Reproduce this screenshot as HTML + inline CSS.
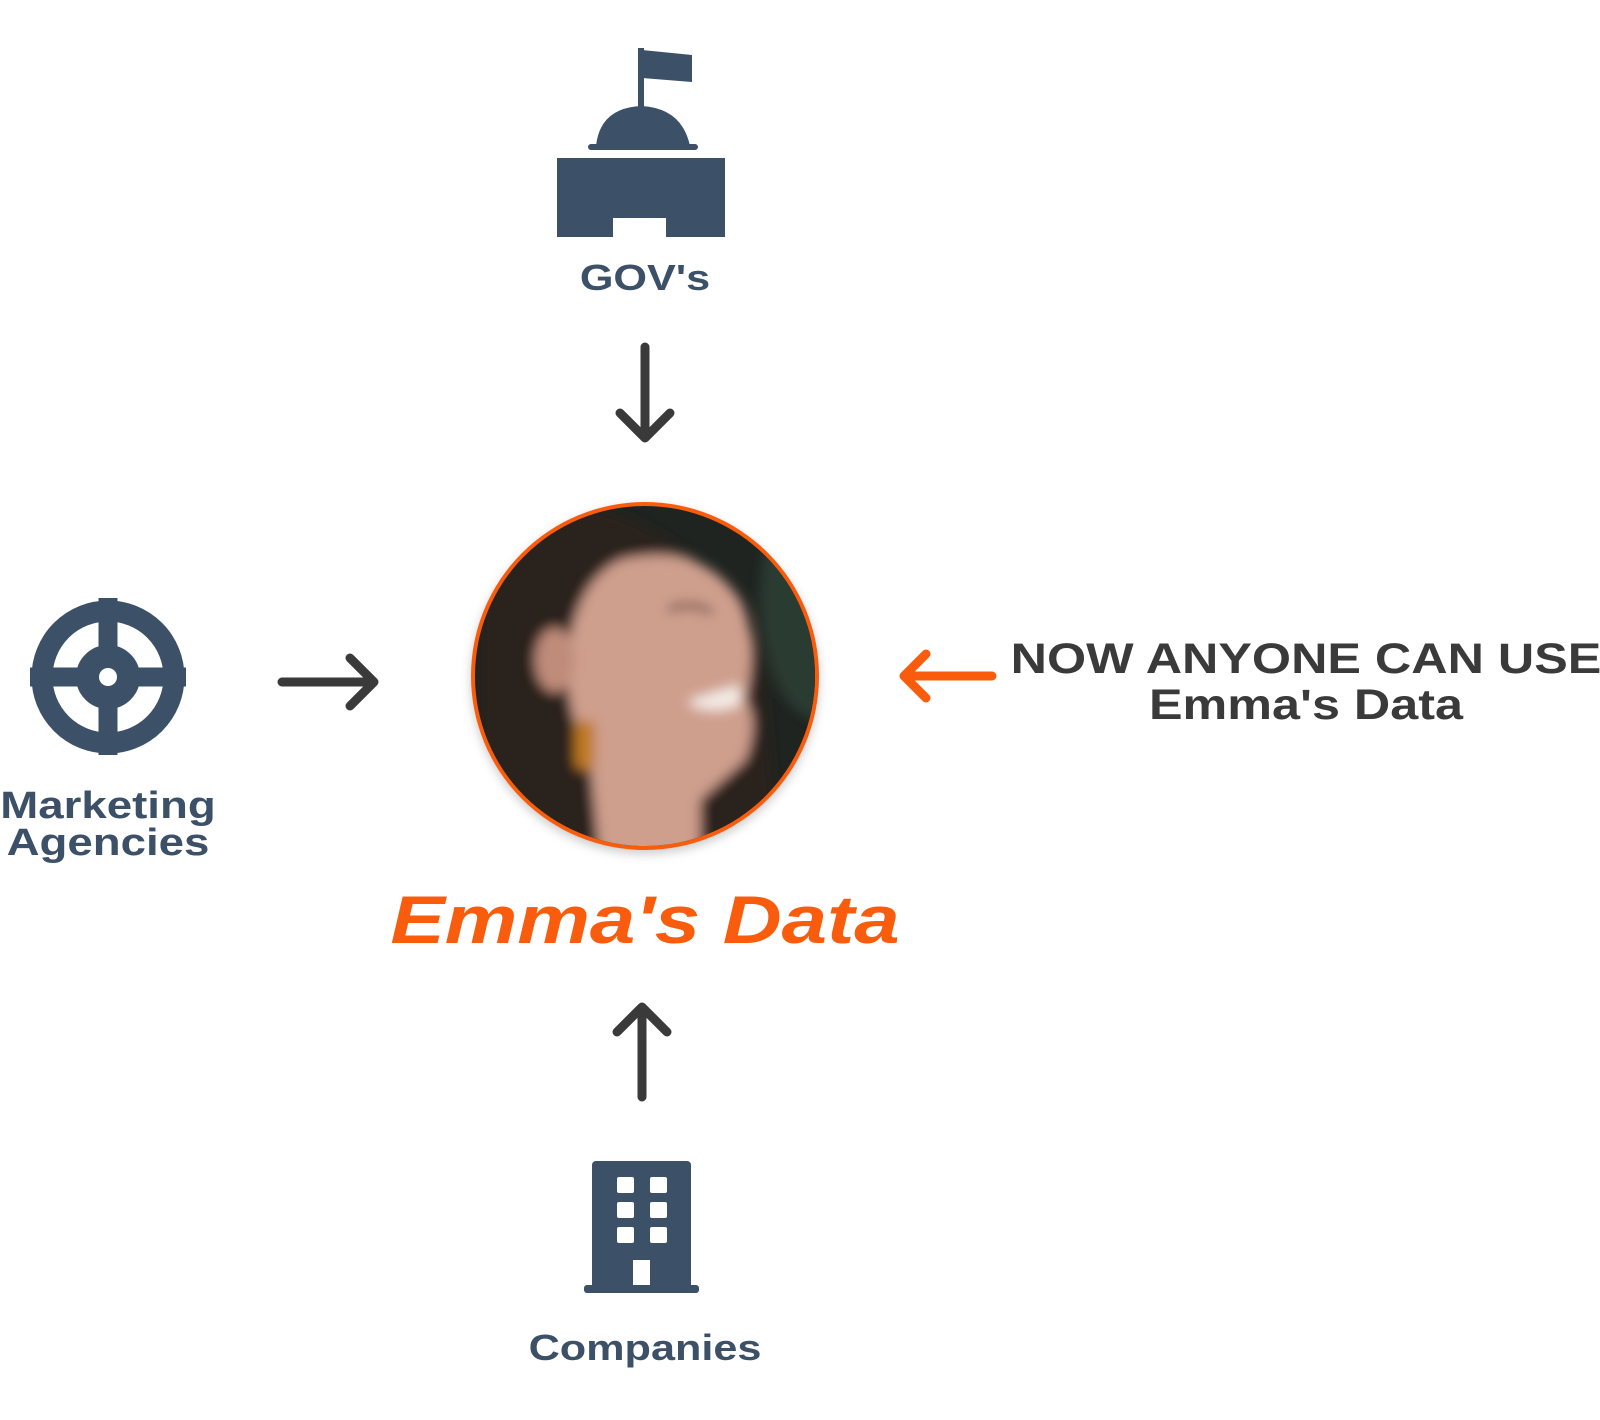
<!DOCTYPE html>
<html><head><meta charset="utf-8"><style>
html,body{margin:0;padding:0;background:#fff;}
body{width:1600px;height:1420px;position:relative;overflow:hidden;font-family:"Liberation Sans",sans-serif;}
.t{position:absolute;font-weight:bold;color:#3c5168;text-align:center;white-space:nowrap;transform:scaleX(1.2);transform-origin:center;}
</style></head><body>
<svg width="1600" height="1420" style="position:absolute;left:0;top:0">
<defs>
<clipPath id="cc"><circle cx="645" cy="676" r="170"/></clipPath>
<filter id="bl"><feGaussianBlur stdDeviation="6"/></filter>
<filter id="sh"><feGaussianBlur stdDeviation="5"/></filter>
</defs>
<g fill="#3c5168">
<rect x="638" y="48" width="6" height="62"/>
<path d="M642 50 L692 55 L692 82 L642 78 Z"/>
<path d="M596 146 Q600 108 641 106 Q682 108 690 146 Z"/>
<rect x="588" y="144" width="110" height="6" rx="3"/>
<path d="M557 158 H725 V237 H666 V218 H613 V237 H557 Z"/>
</g>
<g stroke="#3a3a3a" stroke-width="9" stroke-linecap="round" stroke-linejoin="round" fill="none">
<path d="M645 347 V438 M620 413 L645 438 L670 413"/>
<path d="M282 682 H374 M350 658 L374 682 L350 706"/>
<path d="M642 1097 V1007 M617 1032 L642 1007 L667 1032"/>
</g>
<path d="M992 676 H904 M926 654 L904 676 L926 698" stroke="#f95c0c" stroke-width="9" stroke-linecap="round" stroke-linejoin="round" fill="none"/>
<g fill="none" stroke="#3c5168">
<circle cx="108" cy="677" r="66" stroke-width="21"/>
<circle cx="108" cy="677" r="21" stroke-width="22"/>
<path d="M108 598 V755 M30 677 H186" stroke-width="19"/>
</g>
<circle cx="108" cy="677" r="9" fill="#fff"/>
<g fill="#3c5168">
<rect x="592" y="1161" width="99" height="130" rx="4"/>
<rect x="584" y="1285" width="115" height="8" rx="3"/>
</g>
<g fill="#fff">
<rect x="617" y="1177" width="17" height="16" rx="2"/><rect x="650" y="1177" width="17" height="16" rx="2"/>
<rect x="617" y="1202" width="17" height="16" rx="2"/><rect x="650" y="1202" width="17" height="16" rx="2"/>
<rect x="617" y="1227" width="17" height="16" rx="2"/><rect x="650" y="1227" width="17" height="16" rx="2"/>
<rect x="633" y="1260" width="17" height="25"/>
</g>
<circle cx="645" cy="680" r="174" fill="#999" filter="url(#sh)" opacity="0.5"/>
<circle cx="645" cy="676" r="174" fill="#f95c0c"/>
<g clip-path="url(#cc)">
<rect x="470" y="500" width="350" height="360" fill="#1f2420"/>
<g filter="url(#bl)">
<ellipse cx="820" cy="600" rx="60" ry="120" fill="#2c3a30"/>
<path d="M560 500 Q700 520 760 650 L780 860 L480 860 L480 560 Z" fill="#2a201c"/>
<path d="M620 560 Q700 540 740 600 Q760 640 745 700 Q760 720 745 760 L700 800 L700 860 L600 860 L590 760 Q560 700 570 640 Q580 580 620 560 Z" fill="#cf9f8d"/>
<ellipse cx="555" cy="660" rx="20" ry="32" fill="#c08c7a"/>
<path d="M690 700 Q720 690 740 685 L740 705 Q715 715 690 705 Z" fill="#f4ece6"/>
<rect x="575" y="720" width="20" height="50" rx="8" fill="#c07a22"/>
<path d="M668 610 Q690 600 712 612" stroke="#3a2a22" stroke-width="5" fill="none"/>
</g>
</g>
</svg>
<div class="t" style="left:545px;top:256px;width:200px;font-size:36px;line-height:44px;">GOV's</div>
<div class="t" style="left:-10px;top:788px;width:236px;font-size:38px;line-height:37px;">Marketing<br>Agencies</div>
<div class="t" style="left:500px;top:1326px;width:290px;font-size:36px;line-height:44px;">Companies</div>
<div class="t" style="left:340px;top:880px;width:610px;font-size:68px;line-height:80px;font-style:italic;color:#f95c0c;">Emma's Data</div>
<div class="t" style="left:1006px;top:636px;width:600px;font-size:43px;line-height:46px;color:#3a3a3a;transform:scaleX(1.17);">NOW ANYONE CAN USE<br>Emma's Data</div>
</body></html>
